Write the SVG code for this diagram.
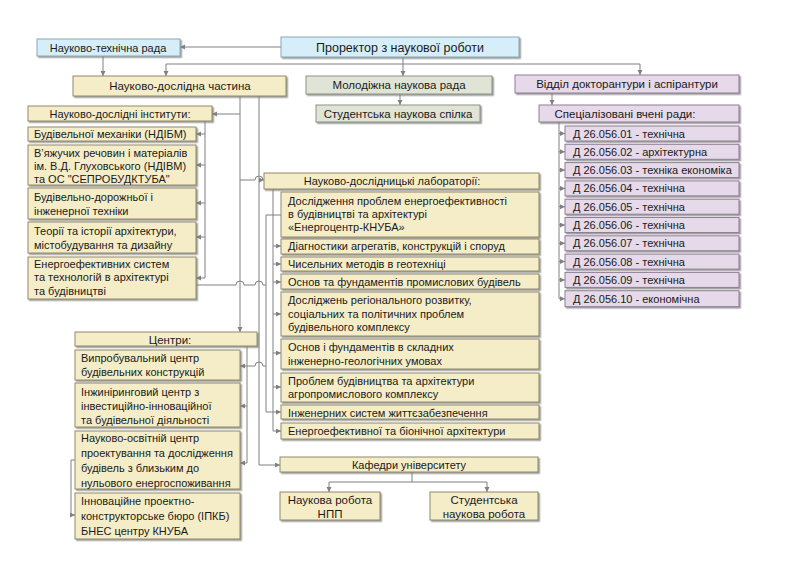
<svg xmlns="http://www.w3.org/2000/svg" width="800" height="566" viewBox="0 0 800 566">
<defs>
<marker id="ah" markerUnits="userSpaceOnUse" markerWidth="6" markerHeight="6" refX="5" refY="2.5" orient="auto"><path d="M0,0 L5,2.5 L0,5 z" fill="#808080"/></marker>
<filter id="sh" x="-5%" y="-20%" width="110%" height="150%"><feDropShadow dx="1.5" dy="1.5" stdDeviation="0.7" flood-color="#7a7a7a" flood-opacity="0.7"/></filter>
<style>
rect{stroke-width:1;filter:url(#sh)}
.b{fill:#d5eef9;stroke:#8aa8b2}
.y{fill:#f5edc8;stroke:#8f8a6c}
.g{fill:#dfe4d6;stroke:#8b9183}
.p{fill:#e6d9e9;stroke:#8e7f93}
text{font-family:"Liberation Sans",Arial,sans-serif;font-size:11px;fill:#1a1a1a}
.c{text-anchor:middle}
.big{font-size:12.5px}
.m{font-size:11.5px}
.n{font-size:11px}
#connectors path{fill:none;stroke:#808080;stroke-width:1}
.a{marker-end:url(#ah)}
</style>
</defs>
<rect x="0" y="0" width="800" height="566" fill="#ffffff" style="filter:none"/>

<g id="connectors">
<path class="a" d="M281,47 H180"/>
<path class="a" d="M103,56 V76"/>
<path class="a" d="M403,57 V76"/>
<path class="a" d="M403,64 H166 V76"/>
<path class="a" d="M403,64 H640 V75"/>
<path class="a" d="M400,94 V105"/>
<path class="a" d="M552,93 V105"/>
<path d="M559,122 V298.5"/>
<path class="a" d="M559,133.5 H565"/>
<path class="a" d="M559,151.8 H565"/>
<path class="a" d="M559,170.1 H565"/>
<path class="a" d="M559,188.4 H565"/>
<path class="a" d="M559,206.7 H565"/>
<path class="a" d="M559,225 H565"/>
<path class="a" d="M559,243.3 H565"/>
<path class="a" d="M559,261.6 H565"/>
<path class="a" d="M559,279.9 H565"/>
<path class="a" d="M559,298.7 H565"/>
<path class="a" d="M240,96 V332"/>
<path class="a" d="M240,114 H212"/>
<path class="a" d="M240,180 H255 A4,4 0 0 1 263,180 H264"/>
<path class="a" d="M259,96 V465 H280"/>
<path d="M205,121 V278"/>
<path class="a" d="M205,134 H196"/>
<path class="a" d="M205,165 H196"/>
<path class="a" d="M205,203 H196"/>
<path class="a" d="M205,237 H196"/>
<path class="a" d="M205,278 H196"/>
<path d="M196,285 H236 A4,4 0 0 1 244,285 H255 A4,4 0 0 1 263,285 H266"/>
<path class="a" d="M281,215 H266 V412 H281"/>
<path class="a" d="M266,366 H263 A4,4 0 0 0 255,366 H240"/>
<path class="a" d="M273,189 V431 H281"/>
<path class="a" d="M273,246 H281"/>
<path class="a" d="M273,264 H281"/>
<path class="a" d="M273,282 H281"/>
<path class="a" d="M273,314 H281"/>
<path class="a" d="M273,353 H281"/>
<path class="a" d="M273,387 H281"/>
<path d="M247,346 V463"/>
<path class="a" d="M247,406 H240"/>
<path class="a" d="M247,463 H240"/>
<path class="a" d="M75,460 H71 V515 H75"/>
<path d="M412,472 V482"/>
<path class="a" d="M412,482 H329 V492"/>
<path class="a" d="M412,482 H487 V492"/>
</g>

<g id="ntr"><rect class="b" x="37" y="39" width="143" height="17"/><text class="c" x="108" y="51.5">Науково-технічна рада</text></g>
<g id="prorector"><rect class="b" x="281" y="37" width="238" height="20"/><text class="c big" x="400" y="51.5">Проректор з наукової роботи</text></g>
<g id="part"><rect class="y" x="73" y="76" width="213" height="20"/><text class="c m" x="180" y="90">Науково-дослідна частина</text></g>
<g id="youth"><rect class="g" x="306" y="76" width="186" height="18"/><text class="c m" x="399" y="89">Молодіжна наукова рада</text></g>
<g id="students"><rect class="g" x="316" y="105" width="164" height="17"/><text class="c m" x="398" y="117.5">Студентська наукова спілка</text></g>
<g id="doct"><rect class="p" x="515" y="75" width="224" height="18"/><text class="c m" x="627" y="88">Відділ докторантури і аспірантури</text></g>
<g id="spec"><rect class="p" x="539" y="105" width="200" height="17"/><text class="c m" x="625" y="117.5">Спеціалізовані вчені ради:</text></g>
<g id="d01"><rect class="p" x="565" y="126" width="174" height="15"/><text x="573" y="137.5">Д 26.056.01 - технічна</text></g>
<g id="d02"><rect class="p" x="565" y="144.3" width="174" height="15"/><text x="573" y="155.8">Д 26.056.02 - архітектурна</text></g>
<g id="d03"><rect class="p" x="565" y="162.6" width="174" height="15"/><text x="573" y="174.1">Д 26.056.03 - техніка економіка</text></g>
<g id="d04"><rect class="p" x="565" y="180.9" width="174" height="15"/><text x="573" y="192.4">Д 26.056.04 - технічна</text></g>
<g id="d05"><rect class="p" x="565" y="199.2" width="174" height="15"/><text x="573" y="210.7">Д 26.056.05 - технічна</text></g>
<g id="d06"><rect class="p" x="565" y="217.5" width="174" height="15"/><text x="573" y="229">Д 26.056.06 - технічна</text></g>
<g id="d07"><rect class="p" x="565" y="235.8" width="174" height="15"/><text x="573" y="247.3">Д 26.056.07 - технічна</text></g>
<g id="d08"><rect class="p" x="565" y="254.1" width="174" height="15"/><text x="573" y="265.6">Д 26.056.08 - технічна</text></g>
<g id="d09"><rect class="p" x="565" y="272.4" width="174" height="15"/><text x="573" y="283.9">Д 26.056.09 - технічна</text></g>
<g id="d10"><rect class="p" x="565" y="290.7" width="174" height="16"/><text x="573" y="302.5">Д 26.056.10 - економічна</text></g>

<g id="inst"><rect class="y" x="28" y="106" width="184" height="15"/><text class="c" x="120" y="117.5">Науково-дослідні інститути:</text></g>
<g id="inst1"><rect class="y" x="28" y="127" width="168" height="14"/><text x="34" y="138">Будівельної механіки (НДІБМ)</text></g>
<g id="inst2"><rect class="y" x="28" y="145" width="168" height="40"/><text x="34" y="157">В’яжучих речовин і матеріалів</text><text x="34" y="170">ім. В.Д. Глуховського (НДІВМ)</text><text x="34" y="183">та ОС "СЕПРОБУДКТУБА"</text></g>
<g id="inst3"><rect class="y" x="28" y="188" width="168" height="31"/><text x="34" y="201">Будівельно-дорожньої і</text><text x="34" y="214.5">інженерної техніки</text></g>
<g id="inst4"><rect class="y" x="28" y="222" width="168" height="31"/><text x="34" y="235">Теорії та історії архітектури,</text><text x="34" y="248.5">містобудування та дизайну</text></g>
<g id="inst5"><rect class="y" x="28" y="257" width="168" height="42"/><text x="34" y="267.5">Енергоефективних систем</text><text x="34" y="281">та технологій в архітектурі</text><text x="34" y="294.5">та будівництві</text></g>

<g id="labs"><rect class="y" x="264" y="173" width="275" height="16"/><text class="c" x="392" y="185">Науково-дослідницькі лабораторії:</text></g>
<g id="lab1"><rect class="y" x="281" y="192" width="258" height="45"/><text x="288" y="205">Дослідження проблем енергоефективності</text><text x="288" y="218">в будівництві та архітектурі</text><text x="288" y="231">«Енергоцентр-КНУБА»</text></g>
<g id="lab2"><rect class="y" x="281" y="239" width="258" height="15"/><text x="288" y="250">Діагностики агрегатів, конструкцій і споруд</text></g>
<g id="lab3"><rect class="y" x="281" y="257" width="258" height="14"/><text x="288" y="268">Чисельних методів в геотехніці</text></g>
<g id="lab4"><rect class="y" x="281" y="274" width="258" height="15"/><text x="288" y="285.5">Основ та фундаментів промислових будівель</text></g>
<g id="lab5"><rect class="y" x="281" y="292" width="258" height="44"/><text x="288" y="304">Досліджень регіонального розвитку,</text><text x="288" y="317.5">соціальних та політичних проблем</text><text x="288" y="331">будівельного комплексу</text></g>
<g id="lab6"><rect class="y" x="281" y="339" width="258" height="30"/><text x="288" y="351">Основ і фундаментів в складних</text><text x="288" y="365">інженерно-геологічних умовах</text></g>
<g id="lab7"><rect class="y" x="281" y="373" width="258" height="29"/><text x="288" y="384.5">Проблем будівництва та архітектури</text><text x="288" y="398">агропромислового комплексу</text></g>
<g id="lab8"><rect class="y" x="281" y="405" width="258" height="14"/><text x="288" y="416.5">Інженерних систем життєзабезпечення</text></g>
<g id="lab9"><rect class="y" x="281" y="423" width="258" height="16"/><text x="288" y="435">Енергоефективної та біонічної архітектури</text></g>

<g id="centres"><rect class="y" x="75" y="332" width="182" height="14"/><text class="c m" x="170" y="343.5">Центри:</text></g>
<g id="c1"><rect class="y" x="75" y="350" width="165" height="30"/><text class="n" x="81" y="362">Випробувальний центр</text><text class="n" x="81" y="376">будівельних конструкцій</text></g>
<g id="c2"><rect class="y" x="75" y="383" width="165" height="44"/><text class="n" x="81" y="396">Інжиніринговий центр з</text><text class="n" x="81" y="410">інвестиційно-інноваційної</text><text class="n" x="81" y="424">та будівельної діяльності</text></g>
<g id="c3"><rect class="y" x="75" y="431" width="165" height="58"/><text class="n" x="81" y="442">Науково-освітній центр</text><text class="n" x="81" y="457">проектування та дослідження</text><text class="n" x="81" y="472">будівель з близьким до</text><text class="n" x="81" y="487">нульового енергоспоживання</text></g>
<g id="c4"><rect class="y" x="75" y="493" width="165" height="46"/><text class="n" x="81" y="505">Інноваційне проектно-</text><text class="n" x="81" y="520">конструкторське бюро (ІПКБ)</text><text class="n" x="81" y="535">БНЕС центру КНУБА</text></g>

<g id="depts"><rect class="y" x="280" y="457" width="258" height="15"/><text class="c" x="409" y="468.5">Кафедри університету</text></g>
<g id="npp"><rect class="y" x="280" y="492" width="100" height="28"/><text class="c m" x="330" y="504">Наукова робота</text><text class="c m" x="330" y="518">НПП</text></g>
<g id="stud"><rect class="y" x="430" y="492" width="108" height="28"/><text class="c m" x="484" y="504">Студентська</text><text class="c m" x="484" y="518">наукова робота</text></g>
</svg>
